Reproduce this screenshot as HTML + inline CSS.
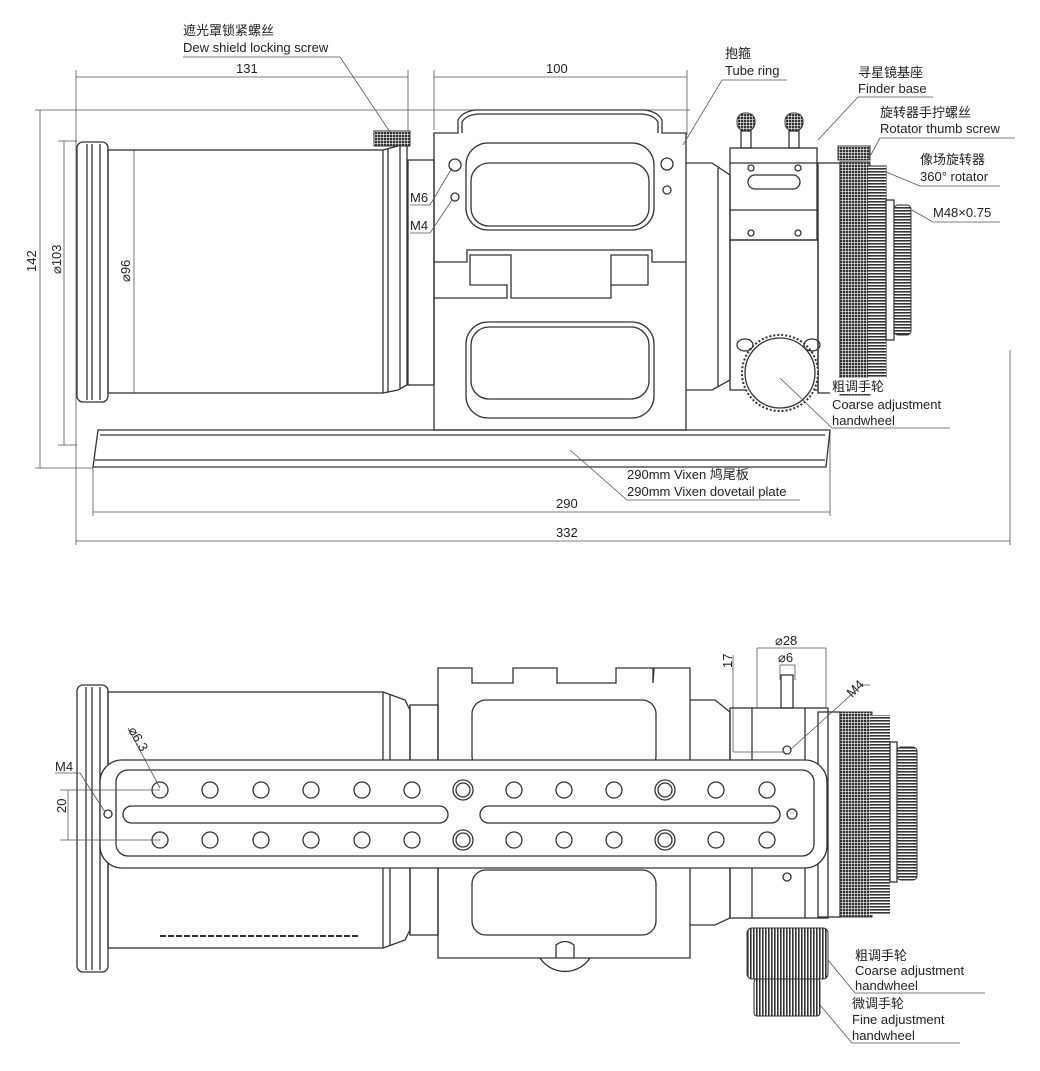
<!DOCTYPE html>
<html><head><meta charset="utf-8"><style>
html,body{margin:0;padding:0;background:#fff}
svg{display:block}
text{font-family:"Liberation Sans","Noto Sans CJK SC",sans-serif;font-size:13px;fill:#222}
.l{stroke:#333;stroke-width:1.3;fill:none}
.t{stroke:#555;stroke-width:.8;fill:none}
.w{stroke:#333;stroke-width:1.3;fill:#fff}
</style></head><body>
<svg width="1040" height="1071" viewBox="0 0 1040 1071" xmlns="http://www.w3.org/2000/svg">
<defs>
<pattern id="kn" width="3" height="3" patternUnits="userSpaceOnUse"><rect width="3" height="3" fill="#fff"/><rect width="2.4" height="2.4" fill="#333"/></pattern>
<pattern id="vs" width="3" height="6" patternUnits="userSpaceOnUse"><rect width="3" height="6" fill="#fff"/><rect width="1.6" height="6" fill="#333"/></pattern>
<pattern id="hs" width="6" height="3" patternUnits="userSpaceOnUse"><rect width="6" height="3" fill="#fff"/><rect width="6" height="1.6" fill="#333"/></pattern>
</defs>

<!-- ===== TOP VIEW ===== -->
<g class="t">
<line x1="76" y1="77" x2="408" y2="77"/><line x1="76" y1="70" x2="76" y2="545"/><line x1="408" y1="70" x2="408" y2="135"/>
<line x1="434" y1="77" x2="687" y2="77"/><line x1="434" y1="70" x2="434" y2="130"/><line x1="687" y1="70" x2="687" y2="135"/>
<line x1="35" y1="110" x2="690" y2="110"/><line x1="40" y1="110" x2="40" y2="468"/>
<line x1="35" y1="468" x2="93" y2="468"/>
<line x1="64" y1="141" x2="64" y2="445"/><line x1="58" y1="141" x2="77" y2="141"/><line x1="58" y1="445" x2="77" y2="445"/>
<line x1="134" y1="150" x2="134" y2="393"/>
<line x1="93" y1="512" x2="830" y2="512"/><line x1="93" y1="468" x2="93" y2="516"/><line x1="830" y1="430" x2="830" y2="516"/>
<line x1="76" y1="541" x2="1010" y2="541"/><line x1="1010" y1="350" x2="1010" y2="545"/>
</g>
<text x="236" y="73">131</text>
<text x="546" y="73">100</text>
<text x="556" y="508">290</text>
<text x="556" y="537">332</text>
<text transform="translate(36,272) rotate(-90)">142</text>
<text transform="translate(61,274) rotate(-90)">⌀103</text>
<text transform="translate(130,282) rotate(-90)">⌀96</text>

<rect class="l" x="77" y="142" width="31" height="260" rx="6"/>
<line class="l" x1="87" y1="144" x2="87" y2="400"/><line class="l" x1="92" y1="144" x2="92" y2="400"/><line class="l" x1="100" y1="144" x2="100" y2="400"/>
<rect class="l" x="108" y="150" width="275" height="243"/>
<path class="l" d="M383 150 L398 146 L407 141 L407 385 L398 390 L383 393"/>
<line class="l" x1="388" y1="149" x2="388" y2="392"/><line class="l" x1="400" y1="146" x2="400" y2="388"/>
<rect x="374" y="131" width="36" height="15" fill="url(#kn)" stroke="#333"/>
<rect class="l" x="408" y="160" width="26" height="225"/>

<path class="l" d="M434 133 L458 133 L458 120 Q462 112 475 110 L645 110 Q658 112 662 120 L662 133 L686 133 L686 430 L434 430 Z"/>
<path class="l" d="M462 133 L462 122 Q466 115 478 114 L642 114 Q654 115 658 122 L658 133"/>
<rect class="l" x="466" y="143" width="188" height="87" rx="22"/>
<rect class="l" x="471" y="163" width="178" height="63" rx="18"/>
<path class="l" d="M434 262 L467 262 L467 250 L652 250 L652 262 L686 262 M434 298 L507 298 L507 285 L470 285 L470 255 L511 255 L511 298 L611 298 L611 255 L648 255 L648 285 L611 285"/>
<rect class="l" x="466" y="322" width="188" height="96" rx="22"/>
<rect class="l" x="471" y="327" width="178" height="72" rx="18"/>
<circle class="l" cx="455" cy="165" r="6"/><circle class="l" cx="455" cy="197" r="4"/>
<circle class="l" cx="667" cy="164" r="6"/><circle class="l" cx="667" cy="190" r="4"/>
<path class="l" d="M98 430 L830 430 L826 467 L93 467 Z"/>
<line class="l" x1="100" y1="435" x2="825" y2="435"/><line class="l" x1="95" y1="460" x2="825" y2="460"/>
<path class="l" d="M686 163 L712 163 L730 175 L730 380 L712 390 L686 390"/>
<line class="l" x1="718" y1="168" x2="718" y2="386"/>
<rect class="l" x="730" y="148" width="87" height="92"/>
<line class="l" x1="730" y1="163" x2="817" y2="163"/><line class="l" x1="730" y1="210" x2="817" y2="210"/>
<rect class="l" x="748" y="175" width="52" height="14" rx="7"/>
<circle class="l" cx="751" cy="168" r="3"/><circle class="l" cx="798" cy="168" r="3"/><circle class="l" cx="751" cy="233" r="3"/><circle class="l" cx="798" cy="233" r="3"/>
<rect x="737" y="113" width="18" height="18" rx="8" fill="url(#kn)" stroke="#333"/><rect class="l" x="741" y="131" width="10" height="17"/>
<rect x="785" y="113" width="18" height="18" rx="8" fill="url(#kn)" stroke="#333"/><rect class="l" x="789" y="131" width="10" height="17"/>
<rect class="l" x="730" y="240" width="88" height="150"/>
<rect class="l" x="818" y="163" width="22" height="230"/>
<rect x="840" y="162" width="30" height="233" fill="url(#kn)" stroke="#333"/>
<rect x="868" y="166" width="18" height="225" fill="#333" stroke="#333"/>
<rect x="868" y="166" width="18" height="225" fill="url(#hs)"/>
<rect class="l" x="886" y="200" width="8" height="140"/>
<rect x="894" y="205" width="17" height="130" rx="4" fill="url(#hs)" stroke="#333"/>
<rect x="838" y="146" width="32" height="14" fill="url(#kn)" stroke="#333"/>
<circle cx="780" cy="373" r="38" fill="#fff" stroke="#333" stroke-width="2" stroke-dasharray="2 2"/>
<circle class="l" cx="780" cy="373" r="35"/>
<ellipse class="l" cx="745" cy="345" rx="8" ry="6"/><ellipse class="l" cx="812" cy="345" rx="8" ry="6"/>

<g class="t">
<path d="M183 57 L340 57 L390 132"/>
<path d="M787 80 L722 80 L683 145"/>
<path d="M933 97 L858 97 L818 140"/>
<path d="M1015 138 L880 138 L868 160"/>
<path d="M1000 186 L920 186 L886 172"/>
<path d="M1000 222 L933 222 L912 210"/>
<path d="M950 428 L832 428 L780 378"/>
<path d="M800 500 L627 500 L570 450"/>
<path d="M410 205 L430 205 L452 168"/><path d="M410 233 L430 233 L452 200"/>
</g>
<text x="183" y="35">遮光罩锁紧螺丝</text><text x="183" y="52">Dew shield locking screw</text>
<text x="725" y="58">抱箍</text><text x="725" y="75">Tube ring</text>
<text x="858" y="77">寻星镜基座</text><text x="858" y="93">Finder base</text>
<text x="880" y="117">旋转器手拧螺丝</text><text x="880" y="133">Rotator thumb screw</text>
<text x="920" y="164">像场旋转器</text><text x="920" y="181">360° rotator</text>
<text x="933" y="217">M48×0.75</text>
<rect x="830" y="378" width="60" height="16" fill="#fff"/>
<text x="832" y="391">粗调手轮</text><text x="832" y="409">Coarse adjustment</text><text x="832" y="425">handwheel</text>
<text x="627" y="479">290mm Vixen 鸠尾板</text><text x="627" y="496">290mm Vixen dovetail plate</text>
<text x="410" y="202">M6</text><text x="410" y="230">M4</text>

<!-- ===== BOTTOM VIEW ===== -->
<rect class="l" x="77" y="685" width="31" height="287" rx="6"/>
<line class="l" x1="86" y1="687" x2="86" y2="970"/><line class="l" x1="92" y1="687" x2="92" y2="970"/><line class="l" x1="100" y1="687" x2="100" y2="970"/>
<rect class="l" x="108" y="692" width="275" height="256"/>
<path class="l" d="M383 692 L405 700 L410 710 L410 930 L405 940 L383 948"/>
<line class="l" x1="390" y1="695" x2="390" y2="945"/>
<rect class="l" x="410" y="705" width="28" height="230"/>
<line x1="160" y1="936" x2="360" y2="936" stroke="#333" stroke-width="2" stroke-dasharray="6 2"/>
<path class="l" d="M438 668 L472 668 L472 683 L513 683 L513 668 L557 668 L557 683 L616 683 L616 668 L653 668 L653 683 L654 668 L690 668 L690 958 L438 958 Z"/>
<rect class="l" x="472" y="700" width="184" height="70" rx="14"/>
<rect class="l" x="472" y="870" width="184" height="65" rx="14"/>
<path class="l" d="M540 958 A30 30 0 0 0 590 958 M556 958 L556 945 Q565 938 574 945 L574 958"/>
<path class="l" d="M690 700 L715 700 L730 712 L730 918 L715 925 L690 925"/>
<rect class="l" x="730" y="708" width="98" height="210"/>
<line class="l" x1="752" y1="708" x2="752" y2="918"/><line class="l" x1="805" y1="708" x2="805" y2="918"/>
<rect class="l" x="818" y="712" width="22" height="205"/>
<rect x="840" y="712" width="32" height="205" fill="url(#kn)" stroke="#333"/>
<rect x="870" y="715" width="20" height="200" fill="#333"/><rect x="870" y="715" width="20" height="200" fill="url(#hs)"/>
<rect class="l" x="890" y="742" width="7" height="140"/>
<rect x="897" y="747" width="20" height="133" rx="4" fill="url(#hs)" stroke="#333"/>
<circle class="l" cx="787" cy="750" r="4"/><circle class="l" cx="787" cy="877" r="4"/>
<rect class="l" x="781" y="675" width="12" height="33"/>
<rect x="747" y="928" width="81" height="51" rx="5" fill="url(#vs)" stroke="#333"/>
<rect x="754" y="979" width="66" height="37" rx="3" fill="url(#vs)" stroke="#333"/>
<rect class="w" x="100" y="760" width="727" height="108" rx="22"/>
<rect class="l" x="116" y="770" width="698" height="86" rx="12"/>
<rect class="l" x="123" y="806" width="325" height="17" rx="8.5"/>
<rect class="l" x="480" y="806" width="300" height="17" rx="8.5"/>
<circle class="l" cx="108" cy="814" r="4"/><circle class="l" cx="792" cy="814" r="5"/>
<g class="l">
<circle cx="160" cy="790" r="8"/><circle cx="210" cy="790" r="8"/><circle cx="261" cy="790" r="8"/><circle cx="311" cy="790" r="8"/><circle cx="362" cy="790" r="8"/><circle cx="412" cy="790" r="8"/><circle cx="463" cy="790" r="10"/><circle cx="463" cy="790" r="7"/><circle cx="514" cy="790" r="8"/><circle cx="564" cy="790" r="8"/><circle cx="614" cy="790" r="8"/><circle cx="665" cy="790" r="10"/><circle cx="665" cy="790" r="7"/><circle cx="716" cy="790" r="8"/><circle cx="767" cy="790" r="8"/>
<circle cx="160" cy="840" r="8"/><circle cx="210" cy="840" r="8"/><circle cx="261" cy="840" r="8"/><circle cx="311" cy="840" r="8"/><circle cx="362" cy="840" r="8"/><circle cx="412" cy="840" r="8"/><circle cx="463" cy="840" r="10"/><circle cx="463" cy="840" r="7"/><circle cx="514" cy="840" r="8"/><circle cx="564" cy="840" r="8"/><circle cx="614" cy="840" r="8"/><circle cx="665" cy="840" r="10"/><circle cx="665" cy="840" r="7"/><circle cx="716" cy="840" r="8"/><circle cx="767" cy="840" r="8"/>
</g>
<g class="t">
<line x1="757" y1="648" x2="826" y2="648"/><line x1="757" y1="648" x2="757" y2="708"/><line x1="826" y1="648" x2="826" y2="708"/>
<line x1="780" y1="665" x2="795" y2="665"/><line x1="780" y1="665" x2="780" y2="680"/><line x1="795" y1="665" x2="795" y2="680"/>
<line x1="733" y1="655" x2="733" y2="752"/><line x1="733" y1="752" x2="785" y2="752"/>
<path d="M870 685 L862 685 L790 750"/>
<path d="M128 728 L160 788"/>
<path d="M55 773 L80 773 L105 812"/>
<line x1="60" y1="790" x2="160" y2="790"/><line x1="60" y1="840" x2="160" y2="840"/><line x1="68" y1="790" x2="68" y2="840"/>
<path d="M985 993 L855 993 L828 960"/>
<path d="M960 1043 L852 1043 L820 1005"/>
</g>
<text x="775" y="645">⌀28</text><text x="778" y="662">⌀6</text>
<text transform="translate(732,668) rotate(-90)">17</text>
<text transform="translate(852,698) rotate(-45)">M4</text>
<text transform="translate(128,730) rotate(60)">⌀6.3</text>
<text x="55" y="771">M4</text>
<text transform="translate(66,813) rotate(-90)">20</text>
<text x="855" y="960">粗调手轮</text><text x="855" y="975">Coarse adjustment</text><text x="855" y="990">handwheel</text>
<text x="852" y="1008">微调手轮</text><text x="852" y="1024">Fine adjustment</text><text x="852" y="1040">handwheel</text>
</svg>
</body></html>
